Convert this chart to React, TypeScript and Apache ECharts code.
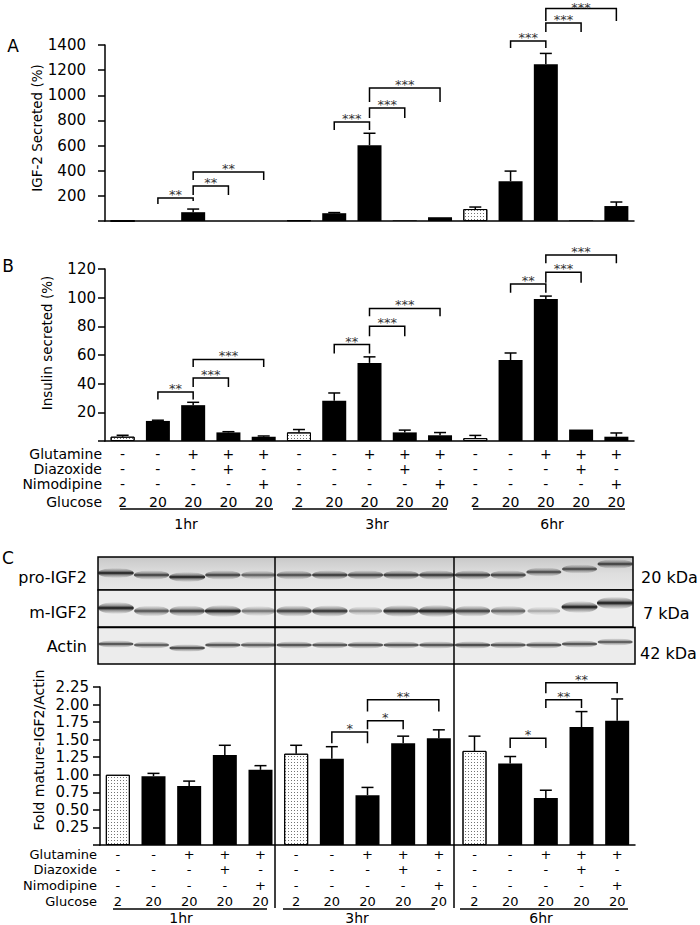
import React, { useEffect, useRef } from 'react';
import * as echarts from 'echarts';

// ---------- data ----------
const glutamine = ['-', '-', '+', '+', '+', '-', '-', '+', '+', '+', '-', '-', '+', '+', '+'];
const diazoxide = ['-', '-', '-', '+', '-', '-', '-', '-', '+', '-', '-', '-', '-', '+', '-'];
const nimodipine = ['-', '-', '-', '-', '+', '-', '-', '-', '-', '+', '-', '-', '-', '-', '+'];
const glucose = ['2', '20', '20', '20', '20', '2', '20', '20', '20', '20', '2', '20', '20', '20', '20'];
const periods = ['1hr', '3hr', '6hr'];

// Panel A: IGF-2 secreted (%)
const igf2Secreted = [0, 0, 70, 0, 0, 6, 62, 603, 5, 30, 95, 317, 1246, 5, 119];
const igf2Err = [0, 0, 25, 0, 0, 0, 5, 95, 0, 0, 16, 80, 87, 0, 32];
// Panel B: Insulin secreted (%)
const insulin = [3, 14, 25, 6, 3, 6, 28, 54.5, 6, 4, 2, 56.5, 99, 8, 3];
const insulinErr = [1, 0.5, 2, 0.5, 0.5, 2, 5.5, 4.2, 1.6, 1.9, 1.9, 4.9, 2.1, 0, 2.6];
// Panel C: Fold mature-IGF2/Actin
const foldMature = [1.0, 0.98, 0.84, 1.28, 1.07, 1.3, 1.23, 0.71, 1.45, 1.52, 1.34, 1.16, 0.67, 1.68, 1.77];
const foldErr = [0, 0.04, 0.07, 0.14, 0.06, 0.12, 0.17, 0.11, 0.1, 0.12, 0.21, 0.1, 0.11, 0.22, 0.31];

// significance brackets: [fromBar, toBar, top, leftLegEnd, rightLegEnd, label]
const bracketsA: any[] = [
  [1, 2, 183, 135, 160, '**'],
  [2, 3, 278, 207, 207, '**'],
  [2, 4, 390, 326, 326, '**'],
  [6, 7, 788, 724, 724, '***'],
  [7, 8, 899, 819, 819, '***'],
  [7, 9, 1058, 947, 947, '***'],
  [11, 12, 1432, 1376, 1376, '***'],
  [12, 13, 1575, 1504, 1504, '***'],
  [12, 14, 1690, 1591, 1591, '***'],
];
const bracketsB: any[] = [
  [1, 2, 34.2, 29, 29, '**'],
  [2, 3, 44, 37.7, 37.7, '***'],
  [2, 4, 56.9, 51.7, 51.7, '***'],
  [6, 7, 67.3, 61, 61, '**'],
  [7, 8, 80, 73, 73, '***'],
  [7, 9, 92.5, 87, 87, '***'],
  [11, 12, 109.5, 103.4, 103.4, '**'],
  [12, 13, 117.7, 110.4, 110.4, '***'],
  [12, 14, 129.8, 124, 124, '***'],
];
const bracketsC: any[] = [
  [6, 7, 1.61, 1.45, 1.45, '*'],
  [7, 8, 1.77, 1.65, 1.65, '*'],
  [7, 9, 2.07, 1.9, 1.9, '**'],
  [11, 12, 1.52, 1.38, 1.38, '*'],
  [12, 13, 2.07, 1.95, 1.95, '**'],
  [12, 14, 2.31, 2.16, 2.16, '**'],
];

// western blot band intensities / vertical shifts per lane
const proIGF2Band = [1.0, 0.85, 1.0, 0.85, 0.7, 0.8, 0.9, 0.85, 0.9, 0.9, 0.9, 0.85, 0.8, 0.8, 0.85];
const proIGF2Shift = [-2, 0, 2, 0, 0, 0, 0, 0, 0, 0, 0, 0, -3, -6, -11];
const mIGF2Band = [1.0, 0.75, 0.85, 1.0, 0.6, 0.85, 0.9, 0.45, 0.95, 1.05, 0.85, 0.7, 0.35, 1.0, 1.1];
const mIGF2Shift = [-3, 0, 0, 0, 0, 0, 0, 0, 0, 0, 0, 0, 0, -4, -8];
const actinBand = [0.85, 0.8, 0.9, 0.85, 0.8, 0.85, 0.85, 0.85, 0.85, 0.85, 0.9, 0.85, 0.85, 0.85, 0.8];
const actinShift = [-1, 0, 3, 0, 0, 0, 0, 0, 0, 0, 0, 0, 0, -1, -3];

// ---------- helpers ----------
const FONT = 'DejaVu Sans';
const idx = glucose.map((_, i) => String(i));
const BLACK = '#000';
const axisLine = { color: BLACK, width: 1.5 };

const DOTS = {
  symbol: 'rect',
  symbolSize: 1,
  color: 'rgba(0,0,0,0.55)',
  backgroundColor: '#fff',
  dashArrayX: [1, 2],
  dashArrayY: [1, 2],
  rotation: 0,
};

function barData(vals: number[]) {
  return vals.map((v, i) =>
    glucose[i] === '2'
      ? { value: v, itemStyle: { color: '#fff', borderColor: BLACK, borderWidth: 1, decal: DOTS } }
      : { value: v, itemStyle: { color: BLACK } }
  );
}

function mainX(grid: number) {
  return {
    type: 'category', gridIndex: grid, data: idx, position: 'bottom',
    axisLine: { show: true, lineStyle: axisLine }, axisTick: { show: false },
    axisLabel: { show: false }, splitLine: { show: false },
  };
}

function rowAxis(grid: number, name: string, row: string[], offset: number, gap: number, fs: number) {
  return {
    type: 'category', gridIndex: grid, data: idx, position: 'bottom', offset,
    axisLine: { show: false }, axisTick: { show: false }, splitLine: { show: false },
    axisLabel: {
      interval: 0, margin: 0, verticalAlign: 'middle', fontFamily: FONT, fontSize: fs, color: BLACK,
      lineHeight: fs - 2,
      formatter: (_v: any, i: number) => row[i],
    },
    name, nameLocation: 'start', nameGap: gap,
    nameTextStyle: { fontFamily: FONT, fontSize: fs, color: BLACK, align: 'right', verticalAlign: 'middle', lineHeight: fs - 2 },
  };
}

function yAxisCfg(grid: number, max: number, interval: number, margin: number, dec: number) {
  return {
    type: 'value', gridIndex: grid, min: 0, max, interval,
    splitLine: { show: false },
    axisLine: { show: true, lineStyle: axisLine },
    axisTick: { show: true, length: 7, lineStyle: axisLine },
    axisLabel: {
      fontFamily: FONT, fontSize: 15, color: BLACK, margin,
      formatter: (v: number) => (v === 0 ? '' : v.toFixed(dec)),
    },
  };
}

function barSeries(xi: number, yi: number, vals: number[]) {
  return { type: 'bar', xAxisIndex: xi, yAxisIndex: yi, barWidth: 24, data: barData(vals), z: 2 };
}

function errSeries(xi: number, yi: number, vals: number[], errs: number[]) {
  return {
    type: 'custom', xAxisIndex: xi, yAxisIndex: yi, clip: false, z: 3,
    itemStyle: { color: BLACK },
    data: vals.map((v, i) => [i, v, errs[i]]),
    renderItem: (_p: any, api: any) => {
      const e = api.value(2);
      if (!(e > 0)) return { type: 'group', children: [] };
      const p0 = api.coord([api.value(0), api.value(1)]);
      const p1 = api.coord([api.value(0), api.value(1) + e]);
      const st = { stroke: BLACK, lineWidth: 1.5, fill: 'none' };
      return {
        type: 'group', children: [
          { type: 'line', shape: { x1: p0[0], y1: p0[1], x2: p1[0], y2: p1[1] }, style: st },
          { type: 'line', shape: { x1: p1[0] - 6, y1: p1[1], x2: p1[0] + 6, y2: p1[1] }, style: st },
        ],
      };
    },
  };
}

function bracketSeries(xi: number, yi: number, list: any[]) {
  return {
    type: 'custom', xAxisIndex: xi, yAxisIndex: yi, clip: false, z: 4,
    itemStyle: { color: '#333' },
    data: list.map((b) => [b[0], b[2]]),
    renderItem: (params: any, api: any) => {
      const b = list[params.dataIndex];
      const a0 = api.coord([b[0], b[3]]);
      const a1 = api.coord([b[0], b[2]]);
      const c1 = api.coord([b[1], b[2]]);
      const c0 = api.coord([b[1], b[4]]);
      return {
        type: 'group', children: [
          { type: 'polyline', shape: { points: [a0, a1, c1, c0] }, style: { stroke: BLACK, lineWidth: 1.5, fill: 'none' } },
          {
            type: 'text', x: (a1[0] + c1[0]) / 2, y: Math.max(1, a1[1] - 10),
            style: {
              text: b[5], fontFamily: FONT, fontSize: 13, fill: '#333',
              textAlign: 'center', textVerticalAlign: 'top',
            },
          },
        ],
      };
    },
  };
}

function txt(x: number, y: number, text: string, fs: number, align = 'center', rot = 0) {
  return {
    type: 'text', x, y, rotation: rot, z: 10,
    style: { text, fontFamily: FONT, fontSize: fs, fill: BLACK, textAlign: align, textVerticalAlign: 'middle' },
  };
}
function hline(x1: number, x2: number, y: number) {
  return { type: 'line', z: 10, shape: { x1, y1: y, x2, y2: y }, style: { stroke: BLACK, lineWidth: 1.5 } };
}

const BLOT_L = 98;
const BLOT_W = 535;
const laneW = BLOT_W / 15;

function bands(baseY: number, intens: number[], shifts: number[], h: number) {
  return intens.map((v, i) => {
    const cx = BLOT_L + laneW * (i + 0.5);
    const cy = baseY + shifts[i];
    const a = Math.min(1, v);
    return {
      type: 'ellipse', z: 6,
      shape: { cx, cy, rx: 15.5 + 2.5 * v, ry: h * (0.6 + 0.4 * v) },
      style: {
        fill: new echarts.graphic.LinearGradient(0, 0, 0, 1, [
          { offset: 0, color: 'rgba(40,40,40,0)' },
          { offset: 0.3, color: `rgba(40,40,40,${0.45 * a})` },
          { offset: 0.5, color: `rgba(15,15,15,${a})` },
          { offset: 0.7, color: `rgba(40,40,40,${0.45 * a})` },
          { offset: 1, color: 'rgba(40,40,40,0)' },
        ]),
      },
    };
  });
}

function buildOption(): any {
  const graphic: any[] = [
    txt(13, 46, 'A', 17),
    txt(8, 266, 'B', 17),
    txt(8, 558, 'C', 17),
    txt(37, 128, 'IGF-2 Secreted (%)', 13.5, 'center', Math.PI / 2),
    txt(47, 343, 'Insulin secreted (%)', 13.5, 'center', Math.PI / 2),
    txt(39, 750, 'Fold mature-IGF2/Actin', 14, 'center', Math.PI / 2),
    // panel B period underlines + labels
    hline(120, 273, 509), hline(292, 447, 509), hline(473, 625, 509),
    txt(186, 524, periods[0], 14), txt(377, 524, periods[1], 14), txt(552, 524, periods[2], 14),
    // panel C period underlines + labels
    hline(113, 267, 909), hline(283, 435, 909), hline(460, 628, 909),
    txt(181, 918, periods[0], 14), txt(357, 918, periods[1], 14), txt(541, 918, periods[2], 14),
    // blot boxes
    {
      type: 'rect', z: 5, shape: { x: BLOT_L, y: 557, width: BLOT_W, height: 33 },
      style: {
        fill: new echarts.graphic.LinearGradient(0, 0, 0, 1, [
          { offset: 0, color: '#c8c8c8' }, { offset: 0.5, color: '#dedede' }, { offset: 1, color: '#e6e6e6' },
        ]), stroke: BLACK, lineWidth: 1.5,
      },
    },
    { type: 'rect', z: 5, shape: { x: BLOT_L, y: 590, width: BLOT_W, height: 37 }, style: { fill: '#ededed', stroke: BLACK, lineWidth: 1.5 } },
    { type: 'rect', z: 5, shape: { x: BLOT_L, y: 627.5, width: BLOT_W + 2, height: 36.5 }, style: { fill: '#ececec', stroke: BLACK, lineWidth: 1.5 } },
    ...bands(575, proIGF2Band, proIGF2Shift, 5),
    ...bands(611, mIGF2Band, mIGF2Shift, 6),
    ...bands(645, actinBand, actinShift, 4),
    // divider lines across blot and panel C
    { type: 'line', z: 11, shape: { x1: 275, y1: 557, x2: 275, y2: 908 }, style: { stroke: BLACK, lineWidth: 1.5 } },
    { type: 'line', z: 11, shape: { x1: 454, y1: 557, x2: 454, y2: 908 }, style: { stroke: BLACK, lineWidth: 1.5 } },
    txt(87, 577, 'pro-IGF2', 16, 'right'),
    txt(87, 612, 'm-IGF2', 16, 'right'),
    txt(87, 646, 'Actin', 16, 'right'),
    txt(641, 577, '20 kDa', 16, 'left'),
    txt(643, 613, '7 kDa', 16, 'left'),
    txt(640, 653, '42 kDa', 16, 'left'),
  ];

  return {
    animation: false,
    backgroundColor: '#fff',
    grid: [
      { left: 105, top: 45, width: 529, height: 176 },
      { left: 105, top: 269, width: 529, height: 172 },
      { left: 100, top: 687, width: 535, height: 158 },
    ],
    xAxis: [
      mainX(0),
      mainX(1),
      rowAxis(1, 'Glutamine', glutamine, 13, 3, 14),
      rowAxis(1, 'Diazoxide', diazoxide, 28, 3, 14),
      rowAxis(1, 'Nimodipine', nimodipine, 42.5, 3, 14),
      rowAxis(1, 'Glucose', glucose, 61, 3, 14),
      mainX(2),
      rowAxis(2, 'Glutamine', glutamine, 9, 3, 13),
      rowAxis(2, 'Diazoxide', diazoxide, 24.5, 3, 13),
      rowAxis(2, 'Nimodipine', nimodipine, 40, 3, 13),
      rowAxis(2, 'Glucose', glucose, 56, 3, 13),
    ],
    yAxis: [
      yAxisCfg(0, 1400, 200, 19, 0),
      yAxisCfg(1, 120, 20, 9, 0),
      yAxisCfg(2, 2.25, 0.25, 11, 2),
    ],
    series: [
      barSeries(0, 0, igf2Secreted),
      errSeries(0, 0, igf2Secreted, igf2Err),
      bracketSeries(0, 0, bracketsA),
      barSeries(1, 1, insulin),
      errSeries(1, 1, insulin, insulinErr),
      bracketSeries(1, 1, bracketsB),
      barSeries(6, 2, foldMature),
      errSeries(6, 2, foldMature, foldErr),
      bracketSeries(6, 2, bracketsC),
    ],
    graphic,
  };
}

export default function App() {
  const ref = useRef<HTMLDivElement>(null);
  useEffect(() => {
    const chart = echarts.init(ref.current!, null, { renderer: 'svg', width: 700, height: 925 });
    chart.setOption(buildOption());
    return () => chart.dispose();
  }, []);
  return (
    <div
      ref={ref}
      style={{ position: 'absolute', left: 0, top: 0, width: 700, height: 925, background: '#fff' }}
    />
  );
}
